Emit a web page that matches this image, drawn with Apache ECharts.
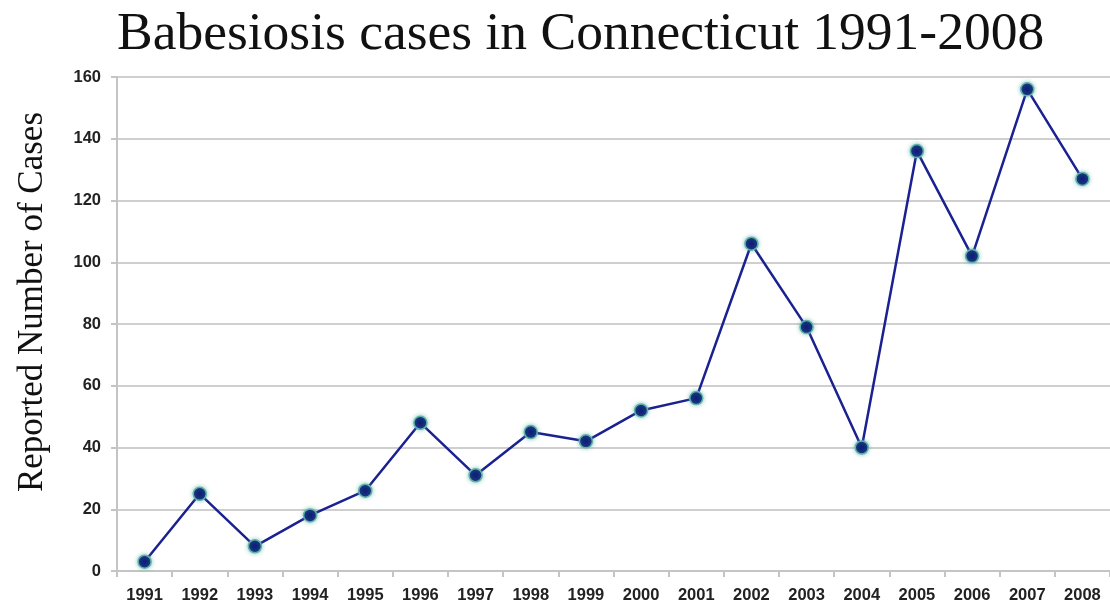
<!DOCTYPE html>
<html>
<head>
<meta charset="utf-8">
<script src="https://cdn.jsdelivr.net/npm/echarts@6/dist/echarts.min.js"></script>
<style>
html, body { margin: 0; padding: 0; background: #fff; }
#chart { width: 1110px; height: 604px; }
</style>
</head>
<body>
<div id="chart"></div>
<script>
// 年份 (x轴类目)
var years = ['1991', '1992', '1993', '1994', '1995', '1996', '1997', '1998', '1999',
	'2000', '2001', '2002', '2003', '2004', '2005', '2006', '2007', '2008'];
// 报告病例数
var cases = [3, 25, 8, 18, 26, 48, 31, 45, 42, 52, 56, 106, 79, 40, 136, 102, 156, 127];
// y轴刻度
var yTicks = [0, 20, 40, 60, 80, 100, 120, 140, 160];

var chart = echarts.init(document.getElementById('chart'));

var serifFont = '"Liberation Serif", "Times New Roman", serif',
	labelFont = 'Arial, "Liberation Sans", sans-serif';

var option = {
	backgroundColor: '#fff',
	animation: false,
	title: {
		text: 'Babesiosis cases in Connecticut 1991-2008',
		left: 112,
		top: 3,
		textStyle: {
			fontFamily: serifFont,
			fontWeight: 'normal',
			fontSize: 53.5,
			color: '#111'
		}
	},
	// y轴标题 (手动放置)
	graphic: [{
		type: 'text',
		x: 33,
		y: 302,
		rotation: Math.PI / 2,
		style: {
			text: 'Reported Number of Cases',
			font: '35px ' + serifFont,
			fill: '#111',
			align: 'center',
			verticalAlign: 'middle'
		}
	}],
	grid: {
		left: 117,
		top: 77,
		width: 999,
		height: 494,
		containLabel: false
	},
	xAxis: {
		type: 'category',
		data: years,
		boundaryGap: true,
		axisLine: { lineStyle: { color: '#c4c4c4', width: 2 } },
		axisTick: { show: true, length: 6, lineStyle: { color: '#c4c4c4', width: 2 } },
		axisLabel: {
			margin: 16,
			fontFamily: labelFont,
			fontWeight: 'bold',
			fontSize: 16.5,
			color: '#222'
		},
		splitLine: { show: false }
	},
	yAxis: {
		type: 'value',
		min: yTicks[0],
		max: yTicks[yTicks.length - 1],
		interval: yTicks[1] - yTicks[0],
		axisLine: { show: true, lineStyle: { color: '#c4c4c4', width: 2 } },
		axisTick: { show: true, length: 6, lineStyle: { color: '#c4c4c4', width: 2 } },
		axisLabel: {
			margin: 16,
			fontFamily: labelFont,
			fontWeight: 'bold',
			fontSize: 16.5,
			color: '#222'
		},
		splitLine: { lineStyle: { color: '#cfcfcf', width: 2 } }
	},
	series: [{
		type: 'line',
		data: cases,
		symbol: 'circle',
		symbolSize: 13,
		lineStyle: { color: '#1a2190', width: 2.5 },
		itemStyle: {
			color: '#0e1f78',
			borderColor: '#5fb3a8',
			borderWidth: 1.5,
			shadowColor: 'rgba(80,170,160,0.6)',
			shadowBlur: 4
		}
	}]
};

chart.setOption(option);
</script>
</body>
</html>
